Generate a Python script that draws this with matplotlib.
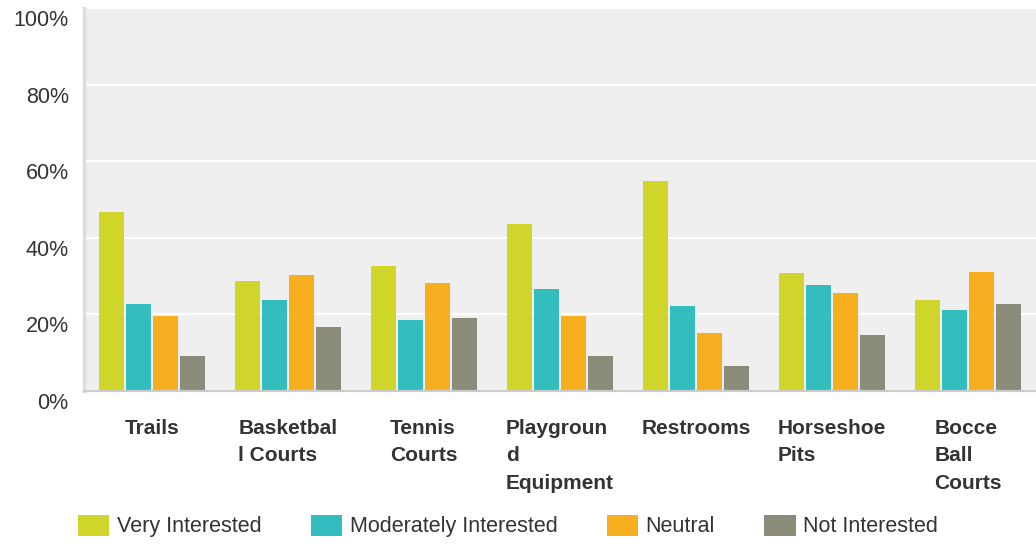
import matplotlib
matplotlib.use('Agg')
import matplotlib.pyplot as plt
import matplotlib.transforms as mtransforms
import numpy as np

plt.rcParams['font.family'] = ['Liberation Sans', 'DejaVu Sans']

categories = ['Trails', 'Basketbal\nl Courts', 'Tennis\nCourts', 'Playgroun\nd\nEquipment',
              'Restrooms', 'Horseshoe\nPits', 'Bocce\nBall\nCourts']
series_names = ['Very Interested', 'Moderately Interested', 'Neutral', 'Not Interested']
very_interested = [46.8, 28.8, 32.7, 43.7, 54.9, 30.9, 23.8]
moderately_interested = [22.8, 23.8, 18.6, 26.7, 22.3, 27.7, 21.2]
neutral = [19.6, 30.3, 28.3, 19.6, 15.2, 25.7, 31.1]
not_interested = [9.2, 16.8, 19.1, 9.2, 6.6, 14.7, 22.8]
colors = ['#CFD52A', '#34BDBF', '#F7AE1F', '#8B8B7A']
y_ticks = [0, 20, 40, 60, 80, 100]

fig = plt.figure(figsize=(10.36, 5.44), dpi=100)
ax = fig.add_axes([84 / 1036, 1 - 391 / 544, 1 - 84 / 1036, 383 / 544])
ax.set_facecolor('#EFEFEF')

x = np.arange(len(categories))
step = 0.2
width = 0.185
all_series = [very_interested, moderately_interested, neutral, not_interested]
for i, (vals, name, c) in enumerate(zip(all_series, series_names, colors)):
    ax.bar(x + (i - 1.5) * step, vals, width, color=c, label=name, zorder=3)

ax.set_xlim(-0.5, len(categories) - 0.5)
ax.set_ylim(0, 100)
ax.set_yticks(y_ticks)
ax.set_yticklabels([f'{v}%' for v in y_ticks], fontsize=15.5, color='#333333')
ax.yaxis.grid(True, color='white', linewidth=1.6, zorder=1)
ax.set_axisbelow(True)

ax.set_xticks(x)
ax.set_xticklabels(categories, fontsize=15, fontweight='bold', color='#333333',
                   ha='center', va='top', multialignment='left', linespacing=1.58)
ax.tick_params(axis='both', length=0)
ax.tick_params(axis='x', pad=20)
ax.tick_params(axis='y', pad=11)

# y labels sit a bit below their gridlines
offset = mtransforms.ScaledTranslation(0, -10 / 100, fig.dpi_scale_trans)
for lab in ax.get_yticklabels():
    lab.set_transform(lab.get_transform() + offset)

for side in ['top', 'right']:
    ax.spines[side].set_visible(False)
ax.spines['left'].set_color('#DDDDDD')
ax.spines['left'].set_linewidth(2.5)
ax.spines['bottom'].set_color('#CCCCCC')
ax.spines['bottom'].set_linewidth(1.6)
ax.spines['bottom'].set_zorder(4)

fig.legend(loc='center', bbox_to_anchor=(508 / 1036, 1 - 526 / 544), ncol=4,
           frameon=False, fontsize=15.5, handlelength=1.45, handleheight=1.15,
           handletextpad=0.35, columnspacing=2.3, labelcolor='#333333')

fig.savefig('out.png', dpi=100)
